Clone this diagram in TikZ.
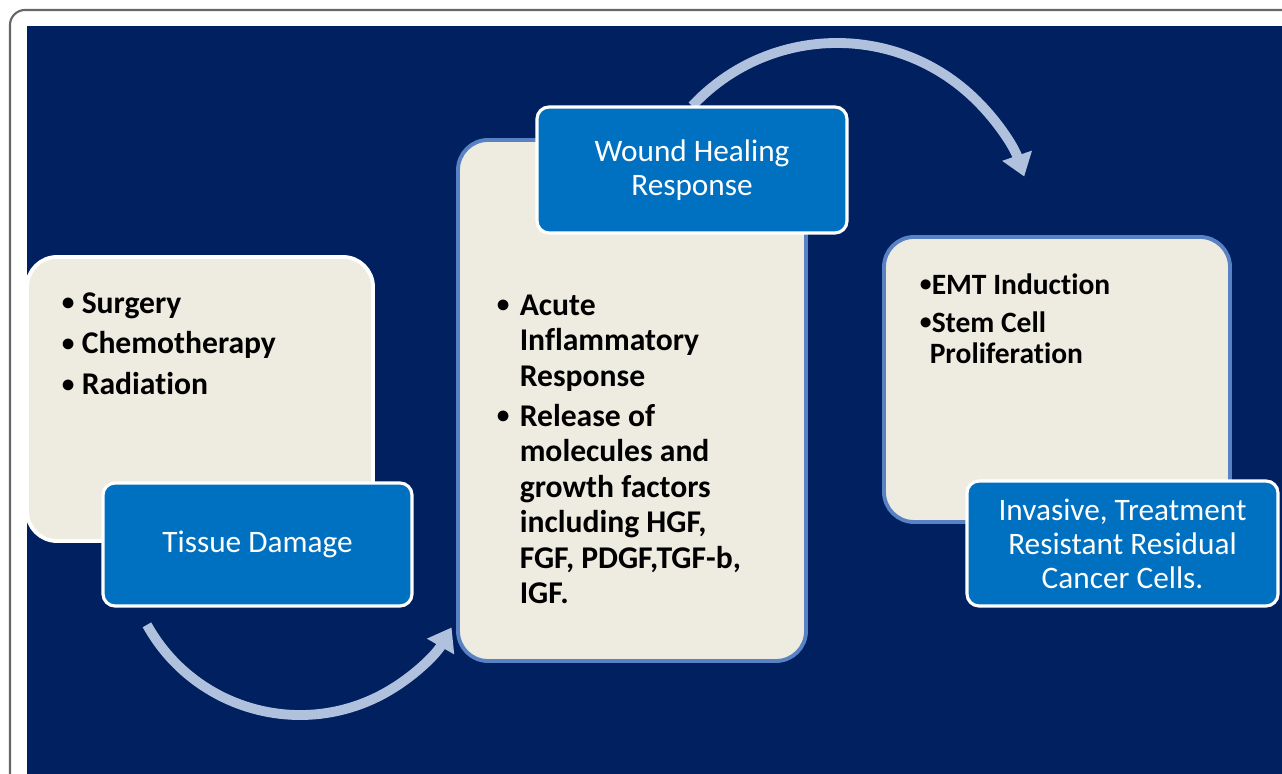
\documentclass[tikz,border=0pt]{standalone}
\usepackage{fontspec}
\setmainfont{Carlito}[Ligatures=NoCommon]
\usetikzlibrary{calc}
\usetikzlibrary{arrows.meta}
\definecolor{navy}{RGB}{0,32,96}
\definecolor{cream}{RGB}{238,236,225}
\definecolor{boxblue}{RGB}{0,112,192}
\definecolor{edgeblue}{RGB}{88,130,196}
\definecolor{arcblue}{RGB}{176,193,222}
\newcommand\itm[1]{\makebox[#1][l]{\raisebox{0.15ex}{\scalebox{0.8}{\textbullet}}}}

\begin{document}
\begin{tikzpicture}[
  panel/.style={draw=edgeblue, line width=1.1pt, fill=cream, rounded corners=0.3cm, inner sep=0},
  headbox/.style={draw=white, line width=0.9pt, fill=boxblue, rounded corners=0.12cm, text=white, align=center, font=\fontsize{8.9}{9.7}\selectfont},
  items/.style={anchor=base west, inner sep=0},
  flow/.style={arcblue, line width=2.8pt, -{Triangle[width=0.3cm,length=0.22cm]}}
]

\useasboundingbox (0,0) rectangle (12.82,7.74);

\coordinate (frameA) at (0.10,0);
\coordinate (frameB) at (12.82,7.64);
\draw[black!60, line width=0.6pt, rounded corners=0.15cm] (frameA) |- (frameB);
\fill[navy] (0.27,0) rectangle (12.82,7.48);

\coordinate (arcA) at ($(3.00,2.34)+(209:1.75)$);
\coordinate (arcB) at ($(8.37,5.33)+(137:1.98)$);
\draw[flow] (arcA) arc(209:330:1.75);
\draw[flow] (arcB) arc(137:19:1.98);

\node[panel, draw=white, minimum width=3.46cm, minimum height=2.84cm] (damage) at (2.00,3.75) {};
\node[headbox, minimum width=3.09cm, minimum height=1.23cm] (tissue) at (2.575,2.295) {Tissue Damage};

\node[panel, minimum width=3.48cm, minimum height=5.21cm] (healing) at (6.32,3.735) {};
\node[headbox, minimum width=3.10cm, minimum height=1.26cm] (wound) at (6.92,6.04) {Wound Healing\\Response};

\node[panel, minimum width=3.46cm, minimum height=2.85cm] (emt) at (10.57,3.945) {};
\node[headbox, minimum width=3.11cm, minimum height=1.25cm] (residual) at (11.225,2.305) {Invasive, Treatment\\Resistant Residual\\Cancer Cells.};

\node[items, font=\fontsize{9.0}{11.6}\bfseries\selectfont] (damagetxt) at ($(damage.north west)+(0.36,-0.58)$)
  {\begin{tabular}[t]{@{}l@{}}
   \itm{0.20cm}Surgery\\
   \itm{0.20cm}Chemotherapy\\
   \itm{0.20cm}Radiation
   \end{tabular}};

\node[items, font=\fontsize{9.0}{10.1}\bfseries\selectfont] (healingtxt) at ($(healing.north west)+(0.40,-1.77)$)
  {\begin{tabular}[t]{@{}l@{}}
   \itm{0.23cm}Acute\\
   \hspace{0.23cm}Inflammatory\\
   \hspace{0.23cm}Response\\[1.3pt]
   \itm{0.23cm}Release of\\
   \hspace{0.23cm}molecules and\\
   \hspace{0.23cm}growth factors\\
   \hspace{0.23cm}including HGF,\\
   \hspace{0.23cm}FGF, PDGF,TGF-b,\\
   \hspace{0.23cm}IGF.
   \end{tabular}};

\node[items, font=\fontsize{8.4}{9.1}\bfseries\selectfont] (emttxt) at ($(emt.north west)+(0.37,-0.59)$)
  {\begin{tabular}[t]{@{}l@{}}
   \itm{0.12cm}EMT Induction\\[1.7pt]
   \itm{0.12cm}Stem Cell\\
   \hspace{0.10cm}Proliferation
   \end{tabular}};

\end{tikzpicture}
\end{document}
